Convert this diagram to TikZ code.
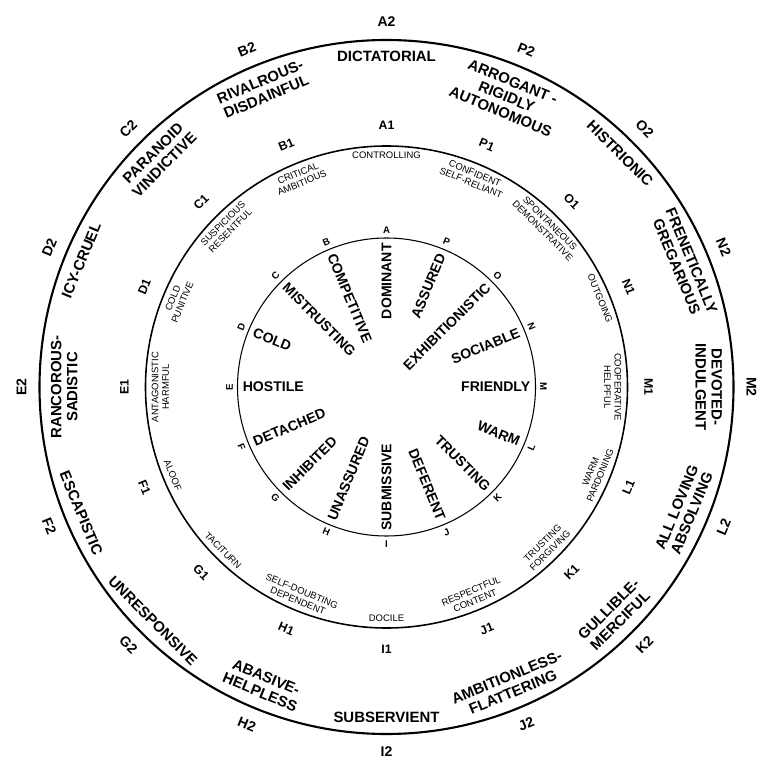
\documentclass[tikz,border=0pt]{standalone}
\usepackage{fontspec}
\setmainfont{Liberation Sans}
\usepackage{tikz}

\begin{document}
\begin{tikzpicture}[x=0.02cm, y=0.02cm,
	lab0/.style={font=\bfseries\fontsize{5.5}{5.5}\selectfont, inner sep=0pt},
	lab1/.style={font=\bfseries\fontsize{7}{7}\selectfont, inner sep=0pt},
	lab2/.style={font=\bfseries\fontsize{8}{8}\selectfont, inner sep=0pt},
	innerword/.style={font=\bfseries\fontsize{8}{8}\selectfont, inner sep=0pt},
	midtxt/.style={font=\fontsize{5.4}{5.9}\selectfont, align=center, inner sep=0pt},
	outtxt/.style={font=\bfseries\fontsize{8.5}{9.2}\selectfont, align=center, inner sep=0pt}]
	\useasboundingbox (-386.5,-383) rectangle (372.5,387);
	% the three rings
	\draw[line width=1.2pt] (0,0) circle (347);
	\draw[line width=0.9pt] (0,0) circle (241);
	\draw[line width=0.6pt] (0,0) circle (149);
	% sector letters round each ring
	\foreach \s/\a in {A/90,P/67.5,O/45,N/22.5,M/0,L/-22.5,K/-45,J/-67.5,I/-90,H/-112.5,G/-135,F/-157.5,E/180,D/157.5,C/135,B/112.5}{
		\pgfmathsetmacro{\rot}{\a>=0 ? \a-90 : \a+90}
		\node[lab0, rotate=\rot] (l0-\s) at (\a:157) {\s};
		\node[lab1, rotate=\rot] (l1-\s) at (\a:262) {\s1};
		\node[lab2, rotate=\rot] (l2-\s) at (\a:365) {\s2};
	}
	% inner circle: radial words
	\begin{scope}[every node/.style={innerword}]
		\node[rotate=90, anchor=east] (w-A) at (90:144) {DOMINANT};
		\node[rotate=67.5, anchor=east] (w-P) at (67.5:144) {ASSURED};
		\node[rotate=45, anchor=east] (w-O) at (45:144) {EXHIBITIONISTIC};
		\node[rotate=22.5, anchor=east] (w-N) at (22.5:144) {SOCIABLE};
		\node[rotate=0, anchor=east] (w-M) at (0:144) {FRIENDLY};
		\node[rotate=-22.5, anchor=east] (w-L) at (-22.5:144) {WARM};
		\node[rotate=-45, anchor=east] (w-K) at (-45:144) {TRUSTING};
		\node[rotate=-67.5, anchor=east] (w-J) at (-67.5:144) {DEFERENT};
		\node[rotate=90, anchor=west] (w-I) at (-90:144) {SUBMISSIVE};
		\node[rotate=67.5, anchor=west] (w-H) at (-112.5:144) {UNASSURED};
		\node[rotate=45, anchor=west] (w-G) at (-135:144) {INHIBITED};
		\node[rotate=22.5, anchor=west] (w-F) at (-157.5:144) {DETACHED};
		\node[rotate=0, anchor=west] (w-E) at (180:144) {HOSTILE};
		\node[rotate=-22.5, anchor=west] (w-D) at (157.5:144) {COLD};
		\node[rotate=-45, anchor=west] (w-C) at (135:144) {MISTRUSTING};
		\node[rotate=-67.5, anchor=west] (w-B) at (112.5:144) {COMPETITIVE};
	\end{scope}
	% middle ring
	\begin{scope}[every node/.style={midtxt}]
		\node[rotate=0, anchor=north] (m-A) at (90:235) {CONTROLLING};
		\node[rotate=-22.5, anchor=north] (m-P) at (67.5:235) {CONFIDENT\\SELF-RELIANT};
		\node[rotate=-45, anchor=north] (m-O) at (45:235) {SPONTANEOUS\\DEMONSTRATIVE};
		\node[rotate=-67.5, anchor=north] (m-N) at (22.5:235) {OUTGOING};
		\node[rotate=-90, anchor=north] (m-M) at (0:235) {COOPERATIVE\\HELPFUL};
		\node[rotate=67.5, anchor=south] (m-L) at (-22.5:235) {WARM\\PARDONING};
		\node[rotate=45, anchor=south] (m-K) at (-45:235) {TRUSTING\\FORGIVING};
		\node[rotate=22.5, anchor=south] (m-J) at (-67.5:235) {RESPECTFUL\\CONTENT};
		\node[rotate=0, anchor=south] (m-I) at (-90:235) {DOCILE};
		\node[rotate=-22.5, anchor=south] (m-H) at (-112.5:235) {SELF-DOUBTING\\DEPENDENT};
		\node[rotate=-45, anchor=south] (m-G) at (-135:235) {TACITURN};
		\node[rotate=-67.5, anchor=south] (m-F) at (-157.5:235) {ALOOF};
		\node[rotate=90, anchor=north] (m-E) at (180:235) {ANTAGONISTIC\\HARMFUL};
		\node[rotate=67.5, anchor=north] (m-D) at (157.5:235) {COLD\\PUNITIVE};
		\node[rotate=45, anchor=north] (m-C) at (135:235) {SUSPICIOUS\\RESENTFUL};
		\node[rotate=22.5, anchor=north] (m-B) at (112.5:235) {CRITICAL\\AMBITIOUS};
	\end{scope}
	% outer ring
	\begin{scope}[every node/.style={outtxt}]
		\node[rotate=0, anchor=north] (o-A) at (90:336) {DICTATORIAL};
		\node[rotate=-22.5, anchor=north] (o-P) at (67.5:336) {ARROGANT -\\RIGIDLY\\AUTONOMOUS};
		\node[rotate=-45, anchor=north] (o-O) at (45:336) {HISTRIONIC};
		\node[rotate=-67.5, anchor=north] (o-N) at (22.5:336) {FRENETICALLY\\GREGARIOUS};
		\node[rotate=-90, anchor=north] (o-M) at (0:336) {DEVOTED-\\INDULGENT};
		\node[rotate=67.5, anchor=south] (o-L) at (-22.5:336) {ALL LOVING\\ABSOLVING};
		\node[rotate=45, anchor=south] (o-K) at (-45:336) {GULLIBLE-\\MERCIFUL};
		\node[rotate=22.5, anchor=south] (o-J) at (-67.5:336) {AMBITIONLESS-\\FLATTERING};
		\node[rotate=0, anchor=south] (o-I) at (-90:336) {SUBSERVIENT};
		\node[rotate=-22.5, anchor=south] (o-H) at (-112.5:336) {ABASIVE-\\HELPLESS};
		\node[rotate=-45, anchor=south] (o-G) at (-135:336) {UNRESPONSIVE};
		\node[rotate=-67.5, anchor=south] (o-F) at (-157.5:336) {ESCAPISTIC};
		\node[rotate=90, anchor=north] (o-E) at (180:336) {RANCOROUS-\\SADISTIC};
		\node[rotate=67.5, anchor=north] (o-D) at (157.5:336) {ICY-CRUEL};
		\node[rotate=45, anchor=north] (o-C) at (135:336) {PARANOID\\VINDICTIVE};
		\node[rotate=22.5, anchor=north] (o-B) at (112.5:336) {RIVALROUS-\\DISDAINFUL};
	\end{scope}
\end{tikzpicture}
\end{document}
